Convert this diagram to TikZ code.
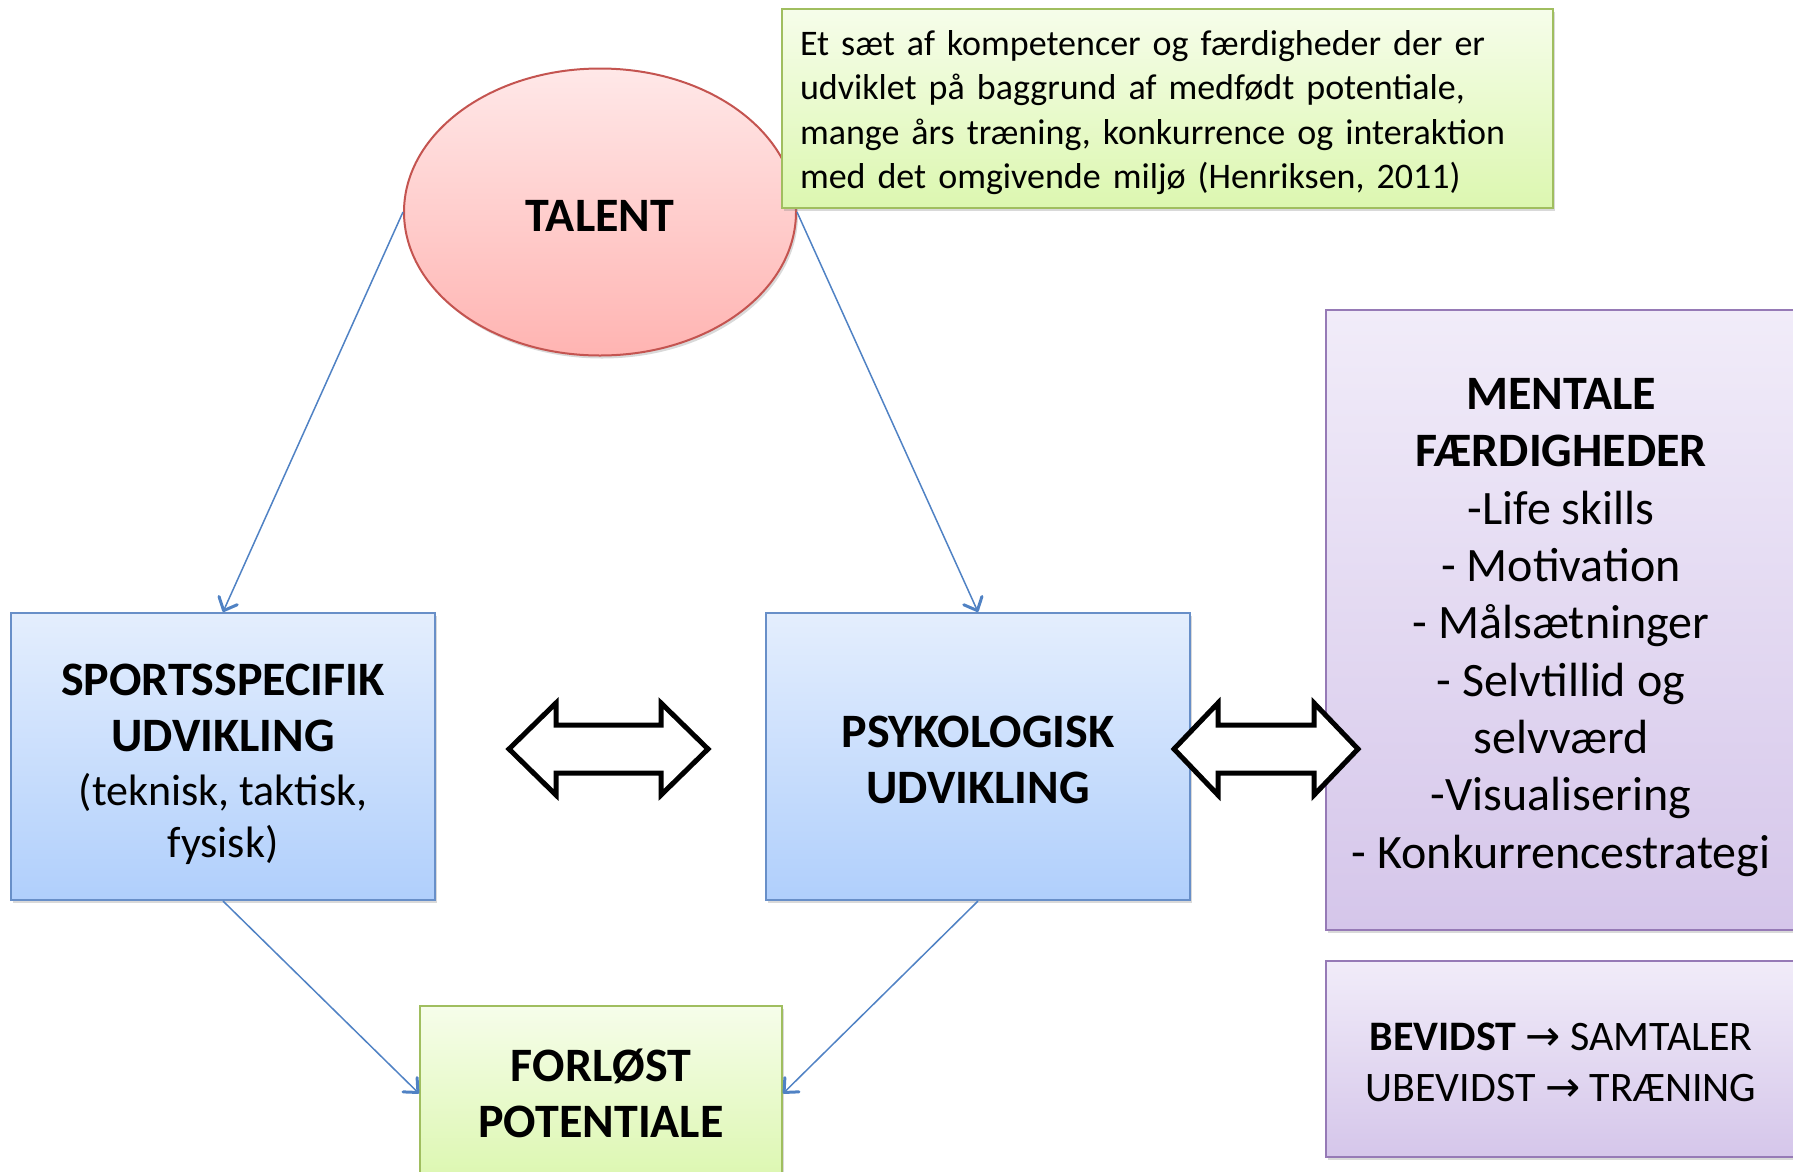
\documentclass[tikz,border=0pt]{standalone}
\usepackage{fontspec}
\setmainfont{Carlito}
\newfontfamily\arrowfont{DejaVu Sans}
\usetikzlibrary{shapes.geometric,arrows.meta,shadows}
\definecolor{elltop}{RGB}{255,232,232}
\definecolor{ellbot}{RGB}{255,180,178}
\definecolor{ellline}{RGB}{196,84,80}
\definecolor{bluetop}{RGB}{228,238,253}
\definecolor{bluebot}{RGB}{176,207,252}
\definecolor{blueline}{RGB}{104,143,200}
\definecolor{greentop}{RGB}{246,253,234}
\definecolor{greenbot}{RGB}{220,247,176}
\definecolor{greenline}{RGB}{160,190,95}
\definecolor{purptop}{RGB}{241,236,249}
\definecolor{purpbot}{RGB}{213,198,234}
\definecolor{purpline}{RGB}{150,122,182}
\definecolor{conn}{RGB}{80,130,196}
\tikzset{
  shad/.style={drop shadow={shadow xshift=2pt,shadow yshift=-3pt,opacity=0.3}},
  bluebox/.style={rectangle,draw=blueline,line width=2pt,top color=bluetop,bottom color=bluebot,shad,align=center,inner sep=0pt},
  greenbox/.style={rectangle,draw=greenline,line width=2pt,top color=greentop,bottom color=greenbot,shad,inner sep=0pt},
  purpbox/.style={rectangle,draw=purpline,line width=2pt,top color=purptop,bottom color=purpbot,shad,align=center,inner sep=0pt},
  bigbold/.style={font=\fontsize{48}{56}\selectfont\bfseries},
  conline/.style={draw=conn,line width=1.5pt,-{Straight Barb[length=11pt,width=20pt,line width=3pt,round]}},
  dblarrow/.style={draw=black,line width=5pt,fill=white,line join=miter}
}
\newcommand\topstrut[1]{\rule{0pt}{#1pt}}
\begin{document}
\begin{tikzpicture}[x=1pt,y=-1pt]
\useasboundingbox (0,0) rectangle (1793,1171);
\clip (0,0) rectangle (1793,1171);

\node[ellipse,draw=ellline,line width=2pt,top color=elltop,bottom color=ellbot,shad,
      minimum width=392pt,minimum height=287pt,inner sep=0pt,bigbold] (talent) at (600,212) {\topstrut{38}TALENT};

\node[greenbox,minimum width=771pt,minimum height=199pt,text width=735pt,inner xsep=18pt,align=left,
      font=\fontsize{36}{44.3}\selectfont] (def) at (1167.5,108.5)
  {\topstrut{33}Et sæt af kompetencer og færdigheder der er\\
   udviklet på baggrund af medfødt potentiale,\\
   mange års træning, konkurrence og interaktion\\
   med det omgivende miljø (Henriksen, 2011)};

\node[bluebox,minimum width=424pt,minimum height=287pt,bigbold] (sport) at (223,756.5)
  {\topstrut{47}SPORTSSPECIFIK\\UDVIKLING\\[-2pt]
   {\fontsize{44}{50}\selectfont\mdseries (teknisk, taktisk,}\\[-4pt]
   {\fontsize{44}{50}\selectfont\mdseries fysisk)}};

\node[bluebox,minimum width=424pt,minimum height=287pt,bigbold] (psyk) at (978,756.5)
  {\topstrut{38}PSYKOLOGISK\\UDVIKLING};

\node[purpbox,minimum width=470pt,minimum height=620pt,font=\fontsize{48}{57.3}\selectfont] (ment) at (1561,620)
  {\topstrut{46}\textbf{MENTALE}\\\textbf{FÆRDIGHEDER}\\-Life skills\\- Motivation\\- Målsætninger\\- Selvtillid og\\selvværd\\-Visualisering\\- Konkurrencestrategi};

\node[purpbox,minimum width=470pt,minimum height=196pt,font=\fontsize{42}{51}\selectfont] (bev) at (1561,1059)
  {\topstrut{34}\textbf{BEVIDST} {\arrowfont →} SAMTALER\\UBEVIDST {\arrowfont →} TRÆNING};

\node[greenbox,minimum width=362pt,minimum height=175pt,align=center,bigbold] (forl) at (601,1093.5)
  {FORLØST\\POTENTIALE};

\draw[conline] (talent.west) -- (sport.north);
\draw[conline] (talent.east) -- (psyk.north);
\draw[conline] (sport.south) -- (forl.west);
\draw[conline] (psyk.south) -- (forl.east);

% double arrows
\draw[dblarrow] (509,749) -- (556,703) -- (556,725) -- (661,725) -- (661,703) -- (708,749)
  -- (661,795) -- (661,773) -- (556,773) -- (556,795) -- cycle;
\draw[dblarrow] (1174,749) -- (1218,703) -- (1218,725) -- (1314,725) -- (1314,703) -- (1358,749)
  -- (1314,795) -- (1314,773) -- (1218,773) -- (1218,795) -- cycle;
\end{tikzpicture}
\end{document}
